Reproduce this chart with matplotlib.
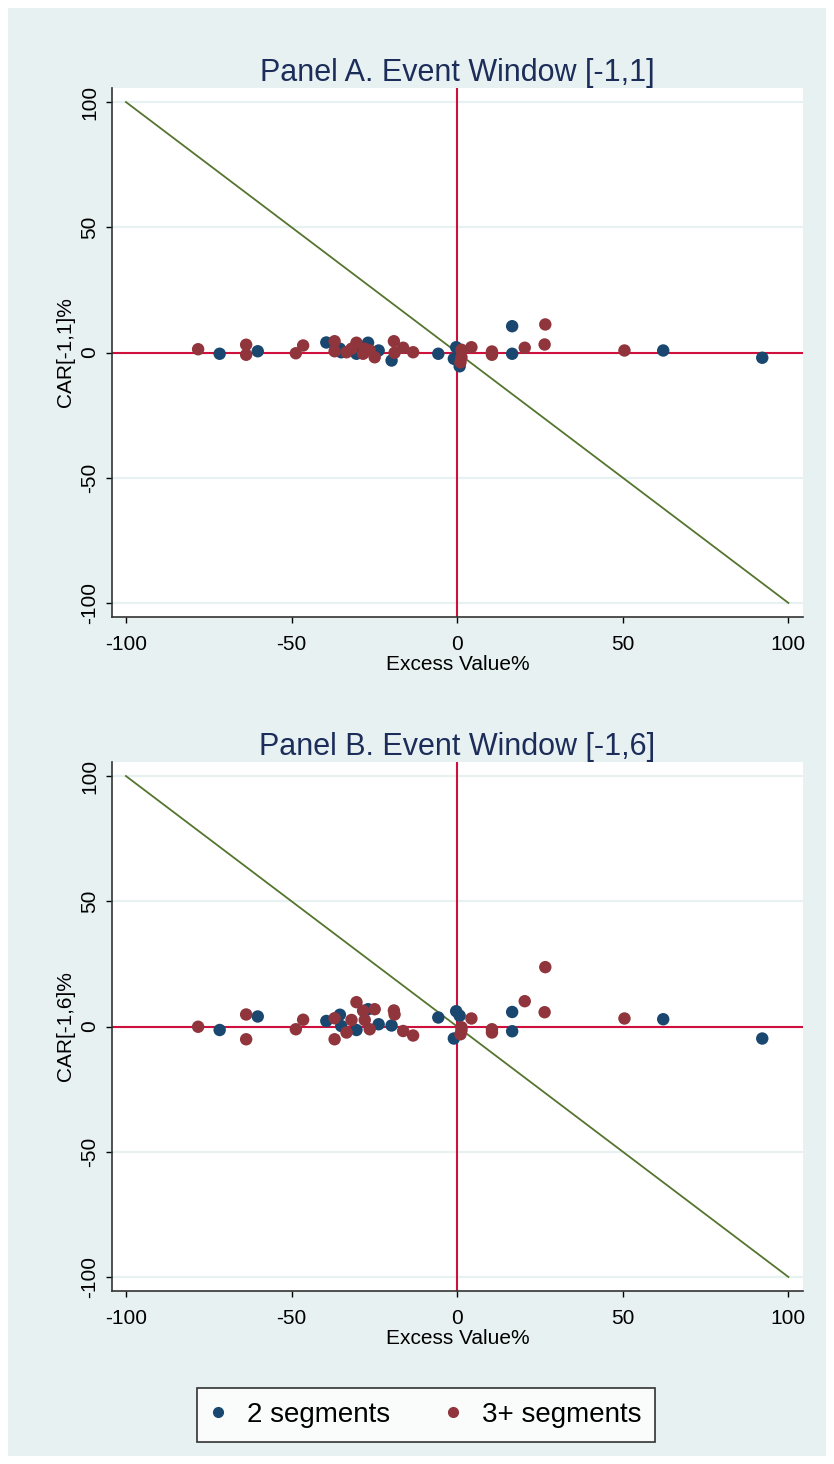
import numpy as np
import matplotlib
matplotlib.use("Agg")
import matplotlib.pyplot as plt
from matplotlib.patches import Rectangle
from matplotlib.lines import Line2D

plt.rcParams['font.family'] = ['Liberation Sans', 'DejaVu Sans']
plt.rcParams['axes.unicode_minus'] = False

# 2 segments: excess value %, CAR[-1,1]%, CAR[-1,6]%
ev_2 = [-71.7, -60.2, -39.5, -35.4, -35.0, -30.4, -26.9, -23.7, -19.8,
        -5.7, -0.3, -1.0, 0.75, 16.6, 16.6, 62.2, 92.1]
car11_2 = [-0.5, 0.5, 4.0, 1.5, 0.1, -0.5, 3.9, 0.8, -3.2,
           -0.5, 2.1, -2.5, -5.5, 10.5, -0.5, 0.8, -2.1]
car16_2 = [-1.4, 4.0, 2.2, 4.7, 0.2, -1.4, 6.9, 0.9, 0.4,
           3.6, 6.1, -4.8, 4.3, 5.8, -1.9, 2.9, -4.8]

# 3+ segments
ev_3 = [-78.2, -63.7, -63.7, -48.7, -46.5, -37.0, -37.0, -33.4, -30.4, -31.9,
        -28.4, -26.4, -24.9, -27.9, -19.1, -18.9, -16.3, -13.3, 1.3, 1.3,
        1.0, 4.3, 10.5, 10.5, 20.4, 26.6, 26.4, 50.5]
car11_3 = [1.3, 3.1, -0.9, -0.3, 2.8, 4.5, 0.5, 0.1, 3.9, 1.5,
           -0.5, 0.8, -1.9, 1.5, 4.5, -0.1, 1.9, 0.1, 1.1, -1.9,
           -3.9, 2.1, 0.4, -0.9, 1.9, 11.2, 3.2, 0.8]
car16_3 = [-0.1, 4.8, -5.1, -1.1, 2.7, 3.3, -5.1, -2.4, 9.7, 2.6,
           6.3, -1.1, 6.9, 2.6, 6.4, 4.8, -1.8, -3.6, -0.3, -1.5,
           -3.1, 3.2, -1.1, -2.4, 10.1, 23.7, 5.7, 3.2]

ticks = [-100, -50, 0, 50, 100]
diag_x = [-100, 100]
diag_y = [100, -100]

navy = '#1A476F'
maroon = '#90353B'
green = '#55752F'
red = '#D0103C'
bg = '#E8F1F2'

W, H = 834, 1464
fig = plt.figure(figsize=(W / 100, H / 100), dpi=100)
fig.patch.set_facecolor('white')
fig.patches.append(Rectangle((8 / W, 8 / H), 818 / W, 1448 / H,
                             transform=fig.transFigure, facecolor=bg,
                             edgecolor='none', zorder=-10))


def panel(rect, title, ylab, y2, y3):
    ax = fig.add_axes(rect)
    ax.set_facecolor('white')
    ax.set_xlim(-104.2, 104.4)
    ax.set_ylim(-105.6, 105.6)
    for yt in ticks:
        ax.axhline(yt, color=bg, lw=1.6, zorder=0)
    ax.plot(diag_x, diag_y, color=green, lw=1.3, zorder=1)
    ax.axhline(0, color=red, lw=1.5, zorder=1)
    ax.axvline(0, color=red, lw=1.5, zorder=1)
    ax.scatter(ev_2, y2, s=80, color=navy, edgecolors='none', zorder=3)
    ax.scatter(ev_3, y3, s=80, color=maroon, edgecolors='none', zorder=3)
    ax.set_xticks(ticks)
    ax.set_yticks(ticks)
    ax.set_yticklabels([str(t) for t in ticks], rotation=90, va='center')
    ax.tick_params(direction='out', length=4, width=1, labelsize=15,
                   colors='black', pad=5)
    ax.tick_params(axis='x', pad=9)
    for s in ['top', 'right']:
        ax.spines[s].set_visible(False)
    for s in ['left', 'bottom']:
        ax.spines[s].set_color('#333333')
        ax.spines[s].set_linewidth(1.2)
    ax.set_title(title, fontsize=22, color='#1C2D59', pad=5)
    ax.set_xlabel('Excess Value%', fontsize=15, labelpad=1)
    ax.set_ylabel(ylab, fontsize=15, labelpad=4)
    return ax


panel([112 / W, 1 - 617 / H, 691 / W, 529 / H],
      'Panel A. Event Window [-1,1]', 'CAR[-1,1]%', car11_2, car11_3)
panel([112 / W, 1 - 1291 / H, 691 / W, 529 / H],
      'Panel B. Event Window [-1,6]', 'CAR[-1,6]%', car16_2, car16_3)

handles = [Line2D([], [], ls='none', marker='o', ms=7, color=navy),
           Line2D([], [], ls='none', marker='o', ms=7, color=maroon)]
leg = fig.legend(handles, ['2 segments', '3+ segments'], ncol=2,
                 loc='center', bbox_to_anchor=(426 / W, 1 - 1415 / H),
                 fontsize=20, frameon=True, fancybox=False,
                 handletextpad=0.8, columnspacing=2.0, borderpad=0.5,
                 handlelength=0.5)
leg.get_frame().set_edgecolor('black')
leg.get_frame().set_linewidth(1.2)

fig.savefig('out.png', dpi=100, facecolor=fig.get_facecolor())
